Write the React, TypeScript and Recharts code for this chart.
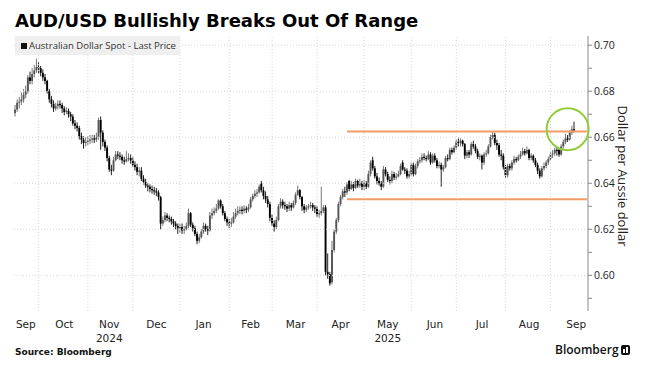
import React from "react";
import { Bar, ComposedChart, ReferenceDot, ReferenceLine, XAxis, YAxis } from "recharts";

// AUD/USD daily candles, in pips (1/10000), one row per month, Sep 16 2024 - Sep 16 2025
const OPEN = [
  6705, 6720, 6750, 6755, 6765, 6785, 6800, 6860, 6845, 6875, 6890,
  6905, 6900, 6880, 6860, 6845, 6800, 6765, 6745, 6725, 6735, 6745, 6740, 6725, 6710, 6715, 6700, 6690, 6660, 6650, 6640, 6605, 6590, 6575,
  6580, 6585, 6590, 6595, 6590, 6600, 6675, 6620, 6580, 6555, 6510, 6460, 6455, 6500, 6525, 6520, 6515, 6500, 6495, 6505, 6510,
  6500, 6480, 6470, 6450, 6455, 6420, 6405, 6390, 6385, 6375, 6370, 6365, 6360, 6340, 6225, 6240, 6260, 6250, 6245, 6235, 6225, 6215,
  6205, 6210, 6195, 6200, 6215, 6270, 6220, 6205, 6180, 6150, 6165, 6190, 6215, 6200, 6195, 6260, 6270, 6280, 6290, 6325, 6300, 6270, 6245,
  6230, 6225, 6230, 6255, 6270, 6280, 6285, 6280, 6290, 6285, 6295, 6330, 6345, 6355, 6360, 6400, 6370, 6345, 6330, 6310,
  6250, 6225, 6210, 6240, 6300, 6320, 6305, 6300, 6290, 6305, 6295, 6315, 6350, 6370, 6340, 6300, 6285, 6295, 6300, 6305, 6295,
  6290, 6265, 6270, 6280, 6295, 6015, 6005, 5970, 6110, 6190, 6240, 6310, 6340, 6365, 6360, 6410, 6375, 6395, 6380, 6410, 6390, 6400,
  6385, 6400, 6385, 6440, 6500, 6465, 6430, 6410, 6400, 6385, 6460, 6440, 6415, 6410, 6440, 6425, 6430, 6440, 6490, 6460, 6455, 6430,
  6440, 6480, 6440, 6475, 6495, 6500, 6515, 6510, 6505, 6525, 6490, 6520, 6500, 6475, 6480, 6460, 6470, 6510, 6505, 6545, 6535,
  6555, 6580, 6575, 6585, 6570, 6520, 6535, 6525, 6570, 6560, 6540, 6515, 6520, 6490, 6525, 6530, 6560, 6600, 6610, 6575, 6565, 6525, 6520,
  6470, 6435, 6475, 6465, 6490, 6505, 6500, 6515, 6525, 6540, 6530, 6545, 6510, 6520, 6500, 6480, 6455, 6430, 6465, 6475, 6490,
  6505, 6525, 6530, 6545, 6545, 6525, 6560, 6580, 6595, 6590, 6620, 6635,
];
const HIGH = [
  6740, 6765, 6775, 6795, 6810, 6825, 6870, 6885, 6900, 6915, 6942,
  6925, 6910, 6895, 6875, 6850, 6810, 6780, 6760, 6750, 6760, 6760, 6750, 6735, 6730, 6725, 6710, 6700, 6675, 6665, 6650, 6620, 6605, 6600,
  6605, 6610, 6610, 6610, 6620, 6685, 6690, 6630, 6590, 6565, 6520, 6480, 6515, 6540, 6540, 6535, 6525, 6515, 6540, 6530, 6525,
  6515, 6495, 6485, 6470, 6470, 6435, 6420, 6400, 6395, 6390, 6385, 6380, 6370, 6345, 6255, 6275, 6270, 6260, 6255, 6245, 6235, 6225,
  6225, 6225, 6215, 6230, 6290, 6275, 6230, 6215, 6190, 6180, 6200, 6230, 6225, 6215, 6275, 6290, 6295, 6310, 6330, 6330, 6310, 6280, 6255,
  6245, 6250, 6275, 6290, 6300, 6300, 6300, 6305, 6300, 6310, 6340, 6355, 6370, 6375, 6395, 6410, 6385, 6365, 6345, 6320,
  6265, 6240, 6255, 6310, 6335, 6330, 6320, 6310, 6320, 6315, 6325, 6360, 6390, 6375, 6345, 6310, 6305, 6310, 6320, 6315, 6305,
  6300, 6285, 6385, 6305, 6305, 6095, 6015, 6150, 6200, 6250, 6320, 6350, 6375, 6385, 6405, 6415, 6410, 6405, 6420, 6415, 6420, 6410,
  6415, 6410, 6455, 6500, 6515, 6475, 6445, 6425, 6410, 6475, 6470, 6450, 6430, 6455, 6450, 6445, 6455, 6485, 6500, 6470, 6465, 6455,
  6490, 6490, 6485, 6505, 6515, 6530, 6530, 6520, 6540, 6535, 6530, 6530, 6510, 6495, 6490, 6480, 6520, 6525, 6555, 6555, 6565,
  6590, 6595, 6595, 6590, 6575, 6545, 6545, 6580, 6585, 6570, 6550, 6530, 6525, 6535, 6545, 6570, 6610, 6625, 6620, 6590, 6575, 6545, 6530,
  6480, 6485, 6485, 6500, 6520, 6515, 6525, 6540, 6555, 6550, 6560, 6550, 6530, 6525, 6510, 6490, 6465, 6475, 6490, 6500, 6515,
  6535, 6545, 6555, 6555, 6550, 6570, 6590, 6615, 6610, 6630, 6650, 6668,
];
const LOW = [
  6690, 6710, 6725, 6740, 6750, 6770, 6790, 6830, 6830, 6860, 6880,
  6875, 6865, 6845, 6830, 6790, 6750, 6730, 6710, 6715, 6720, 6725, 6705, 6695, 6700, 6685, 6670, 6650, 6635, 6625, 6590, 6570, 6550, 6560,
  6565, 6570, 6575, 6575, 6580, 6590, 6545, 6560, 6540, 6495, 6450, 6435, 6450, 6495, 6505, 6500, 6485, 6480, 6490, 6495, 6485,
  6470, 6455, 6435, 6430, 6410, 6395, 6380, 6365, 6360, 6355, 6350, 6345, 6325, 6200, 6215, 6230, 6235, 6230, 6220, 6210, 6200, 6180,
  6185, 6180, 6180, 6195, 6205, 6210, 6190, 6170, 6135, 6140, 6160, 6180, 6190, 6175, 6190, 6245, 6260, 6270, 6285, 6290, 6260, 6235, 6215,
  6205, 6210, 6225, 6245, 6260, 6265, 6265, 6270, 6270, 6275, 6290, 6320, 6335, 6340, 6355, 6360, 6330, 6315, 6295, 6235,
  6215, 6190, 6200, 6235, 6290, 6290, 6285, 6275, 6280, 6280, 6290, 6305, 6345, 6330, 6280, 6270, 6275, 6285, 6290, 6280, 6270,
  6255, 6250, 6260, 6270, 6000, 5985, 5955, 5960, 6100, 6180, 6230, 6300, 6330, 6340, 6350, 6365, 6370, 6365, 6375, 6380, 6380, 6370,
  6370, 6375, 6380, 6430, 6455, 6420, 6395, 6390, 6370, 6380, 6430, 6405, 6395, 6400, 6415, 6415, 6425, 6435, 6455, 6440, 6420, 6420,
  6430, 6430, 6435, 6465, 6485, 6490, 6500, 6495, 6500, 6480, 6485, 6490, 6465, 6465, 6385, 6450, 6465, 6495, 6500, 6525, 6530,
  6545, 6560, 6560, 6560, 6505, 6510, 6510, 6520, 6550, 6530, 6505, 6500, 6460, 6480, 6515, 6525, 6555, 6590, 6565, 6545, 6515, 6500, 6460,
  6425, 6425, 6455, 6455, 6480, 6490, 6495, 6505, 6520, 6520, 6525, 6500, 6500, 6490, 6470, 6440, 6420, 6425, 6455, 6465, 6480,
  6500, 6510, 6520, 6520, 6515, 6520, 6550, 6570, 6580, 6585, 6610, 6620,
];
const CLOSE = [
  6720, 6750, 6755, 6765, 6785, 6800, 6860, 6845, 6875, 6890, 6905,
  6900, 6880, 6860, 6845, 6800, 6765, 6745, 6725, 6735, 6745, 6740, 6725, 6710, 6715, 6700, 6690, 6660, 6650, 6640, 6605, 6590, 6575, 6580,
  6585, 6590, 6595, 6590, 6600, 6675, 6620, 6580, 6555, 6510, 6460, 6455, 6500, 6525, 6520, 6515, 6500, 6495, 6505, 6510, 6500,
  6480, 6470, 6450, 6455, 6420, 6405, 6390, 6385, 6375, 6370, 6365, 6360, 6340, 6225, 6240, 6260, 6250, 6245, 6235, 6225, 6215, 6205,
  6210, 6195, 6200, 6215, 6270, 6220, 6205, 6180, 6150, 6165, 6190, 6215, 6200, 6195, 6260, 6270, 6280, 6290, 6325, 6300, 6270, 6245, 6230,
  6225, 6230, 6255, 6270, 6280, 6285, 6280, 6290, 6285, 6295, 6330, 6345, 6355, 6360, 6385, 6370, 6345, 6330, 6310, 6250,
  6225, 6210, 6240, 6300, 6320, 6305, 6300, 6290, 6305, 6295, 6315, 6350, 6370, 6340, 6300, 6285, 6295, 6300, 6305, 6295, 6290,
  6265, 6270, 6280, 6295, 6015, 6005, 5965, 6110, 6190, 6240, 6310, 6340, 6365, 6360, 6395, 6375, 6395, 6380, 6410, 6390, 6400, 6385,
  6400, 6385, 6440, 6490, 6465, 6430, 6410, 6400, 6385, 6460, 6440, 6415, 6410, 6440, 6425, 6430, 6440, 6475, 6460, 6455, 6430, 6440,
  6480, 6440, 6475, 6495, 6500, 6515, 6510, 6505, 6525, 6490, 6520, 6500, 6475, 6480, 6460, 6470, 6510, 6505, 6545, 6535, 6555,
  6580, 6575, 6585, 6570, 6520, 6535, 6525, 6570, 6560, 6540, 6515, 6520, 6490, 6525, 6530, 6560, 6600, 6610, 6575, 6565, 6525, 6520, 6470,
  6435, 6475, 6465, 6490, 6505, 6500, 6515, 6525, 6540, 6530, 6545, 6510, 6520, 6500, 6480, 6455, 6430, 6465, 6475, 6490, 6505,
  6525, 6530, 6545, 6540, 6525, 6560, 6580, 6595, 6590, 6620, 6635, 6630,
];

const START = "2024-09-16";
const EMPTY_DAYS = 6; // axis runs a few sessions past the last candle

const MONTHS = ["Jan", "Feb", "Mar", "Apr", "May", "Jun", "Jul", "Aug", "Sep", "Oct", "Nov", "Dec"];
const TICK_DATES = [
  "2024-09-23", "2024-10-17", "2024-11-15", "2024-12-17", "2025-01-16", "2025-02-17", "2025-03-18",
  "2025-04-16", "2025-05-16", "2025-06-17", "2025-07-17", "2025-08-18", "2025-09-17",
];
const YEAR_LABELS: Record<string, string> = { "2024-11-15": "2024", "2025-05-16": "2025" };
const Y_TICKS = [0.59, 0.6, 0.61, 0.62, 0.63, 0.64, 0.65, 0.66, 0.67, 0.68, 0.69, 0.7];
const Y_DOMAIN: [number, number] = [0.5845, 0.704];

// range lines and the breakout marker
const RANGE_FROM = "2025-04-21";
const RANGE_TOP = 0.6625;
const RANGE_BOTTOM = 0.6331;
const MARK_DATE = "2025-09-11";
const MARK_VALUE = 0.6635;

const ORANGE = "#F29B66";
const GREEN = "#93CC3A";
const GRID = "#d6d6d6";
const FONT = "'Open Sans', sans-serif";

function weekdays(start: string, n: number) {
  const out: string[] = [];
  const d = new Date(start + "T00:00:00Z");
  while (out.length < n) {
    const w = d.getUTCDay();
    if (w !== 0 && w !== 6) out.push(d.toISOString().slice(0, 10));
    d.setUTCDate(d.getUTCDate() + 1);
  }
  return out;
}

const DATES = weekdays(START, CLOSE.length + EMPTY_DAYS);
const data = DATES.map((d, i) => {
  if (i >= CLOSE.length) return { d };
  const o = OPEN[i] / 1e4;
  const c = CLOSE[i] / 1e4;
  const h = Math.max(HIGH[i] / 1e4, o, c);
  const l = Math.min(LOW[i] / 1e4, o, c);
  return { d, o, h, l, c, range: [l, h] };
});
const MONTH_STARTS = DATES.filter((d, i) => i > 0 && d.slice(5, 7) !== DATES[i - 1].slice(5, 7));
const LAST_DATE = DATES[DATES.length - 1];

function Candle(props: any) {
  const { x, y, width, height, payload } = props;
  if (!payload || payload.c == null) return null;
  const { o, h, l, c } = payload;
  const top = Math.min(y, y + height);
  const bot = Math.max(y, y + height);
  const span = h - l || 1e-6;
  const py = (v: number) => top + ((h - v) / span) * (bot - top);
  const cx = x + width / 2;
  const up = c >= o;
  const bTop = py(Math.max(o, c));
  const bBot = py(Math.min(o, c));
  return (
    <g>
      <line x1={cx} x2={cx} y1={top} y2={bot} stroke={up ? "#777" : "#222"} strokeWidth={1} />
      <rect x={cx - 0.95} y={bTop} width={1.9} height={Math.max(1.2, bBot - bTop)} fill={up ? "#555" : "#000"} />
    </g>
  );
}

function XTick(props: any) {
  const { x, y, payload } = props;
  const d: string = payload.value;
  const year = YEAR_LABELS[d];
  return (
    <g fontFamily="'DejaVu Sans', sans-serif" fontSize={10.5} fill="#222">
      <text x={x} y={y} dy={17} textAnchor="middle">{MONTHS[Number(d.slice(5, 7)) - 1]}</text>
      {year && <text x={x} y={y} dy={31} textAnchor="middle">{year}</text>}
    </g>
  );
}

function YTick(props: any) {
  const { x, y, payload } = props;
  const v: number = payload.value;
  if (Math.round(v * 100) % 2 !== 0) return null;
  return (
    <text x={x} y={y} dy={3.8} fontFamily={FONT} fontSize={10.5} fill="#222">{v.toFixed(2)}</text>
  );
}

export default function App() {
  return (
    <div style={{ position: "absolute", left: 0, top: 0, width: 645, height: 375, background: "#fff", overflow: "hidden" }}>
      <ComposedChart width={645} height={375} data={data} margin={{ top: 36, right: 0, bottom: 24, left: 14 }} barCategoryGap={0} barGap={0}>
        <XAxis dataKey="d" ticks={TICK_DATES} interval={0} tick={<XTick />} axisLine={false} tickLine={false} tickSize={0} tickMargin={0} height={40} />
        <YAxis orientation="right" type="number" domain={Y_DOMAIN} ticks={Y_TICKS} allowDataOverflow width={57}
          axisLine={{ stroke: "#8a8a8a" }} tickLine={{ stroke: "#8a8a8a" }} tickSize={4} tick={<YTick />} />
        {Y_TICKS.filter((v) => Math.round(v * 100) % 2 === 0).map((v) => (
          <ReferenceLine key={"h" + v} y={v} stroke={GRID} strokeDasharray="1 2" />
        ))}
        {MONTH_STARTS.map((d) => (
          <ReferenceLine key={"v" + d} x={d} stroke={GRID} strokeDasharray="1 2" />
        ))}
        <Bar dataKey="range" shape={(p: any) => <Candle {...p} />} isAnimationActive={false} />
        <ReferenceLine segment={[{ x: RANGE_FROM, y: RANGE_TOP }, { x: LAST_DATE, y: RANGE_TOP }]} stroke={ORANGE} strokeWidth={2} />
        <ReferenceLine segment={[{ x: RANGE_FROM, y: RANGE_BOTTOM }, { x: LAST_DATE, y: RANGE_BOTTOM }]} stroke={ORANGE} strokeWidth={2} />
        <ReferenceDot x={MARK_DATE} y={MARK_VALUE} r={21} fill="none" stroke={GREEN} strokeWidth={2} />
      </ComposedChart>

      <div style={{ position: "absolute", left: 15, top: 12, fontFamily: "'DejaVu Sans', sans-serif", fontWeight: 700, fontSize: 18, lineHeight: "18px", color: "#000", whiteSpace: "nowrap" }}>
        AUD/USD Bullishly Breaks Out Of Range
      </div>
      <div style={{ position: "absolute", left: 15, top: 36, width: 165, height: 19, background: "#efefef", fontFamily: FONT, fontSize: 9.5, lineHeight: "19px", color: "#333", whiteSpace: "nowrap" }}>
        <span style={{ position: "absolute", left: 6, top: 7, width: 6, height: 6, background: "#111" }} />
        <span style={{ position: "absolute", left: 14, top: 0 }}>Australian Dollar Spot - Last Price</span>
      </div>
      <div style={{ position: "absolute", left: 543, top: 168, width: 160, height: 16, lineHeight: "16px", textAlign: "center", transform: "rotate(90deg)", fontFamily: FONT, fontSize: 13, color: "#222", whiteSpace: "nowrap" }}>
        Dollar per Aussie dollar
      </div>
      <div style={{ position: "absolute", left: 15, top: 346, fontFamily: "'DejaVu Sans', sans-serif", fontWeight: 700, fontSize: 9, lineHeight: "12px", color: "#111" }}>
        Source: Bloomberg
      </div>
      <div style={{ position: "absolute", left: 555, top: 342, fontFamily: FONT, fontWeight: 600, fontSize: 12, lineHeight: "16px", color: "#111", whiteSpace: "nowrap" }}>
        Bloomberg
      </div>
      <div style={{ position: "absolute", left: 621, top: 345, width: 9, height: 10, borderRadius: 2, background: "#111" }}>
        <span style={{ position: "absolute", left: 2, top: 4, width: 1.5, height: 4, background: "#fff" }} />
        <span style={{ position: "absolute", left: 5, top: 2, width: 1.5, height: 6, background: "#fff" }} />
      </div>
    </div>
  );
}
